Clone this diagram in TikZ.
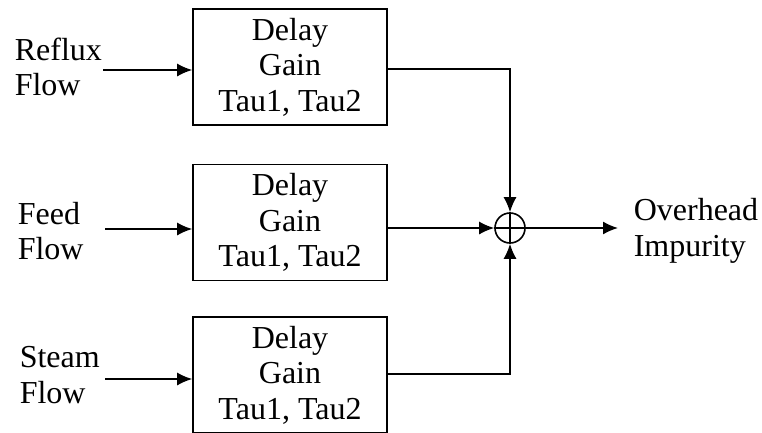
\documentclass[tikz,border=0pt]{standalone}
\usepackage{fontspec}
\setmainfont{Liberation Serif}
\usetikzlibrary{arrows.meta}
\begin{document}
\begin{tikzpicture}[x=1pt,y=-1pt,
  line width=1.6pt,
  txt/.style={font=\fontsize{32}{35.5}\selectfont},
  blockbox/.style={draw, txt, align=center, minimum width=194pt, minimum height=116pt, inner sep=0pt},
  lbl/.style={txt, align=left, anchor=west, inner sep=0pt},
  sumnode/.style={draw, circle, minimum size=30pt, inner sep=0pt},
  arr/.style={-{Latex[length=15pt,width=13pt]}}]
\useasboundingbox (0,0) rectangle (762,432);
% blocks
\node[blockbox] (b1) at (290,67) {Delay\\Gain\\Tau1, Tau2};
\node[blockbox] (b2) at (290,222.5) {Delay\\Gain\\Tau1, Tau2};
\node[blockbox] (b3) at (290,375) {Delay\\Gain\\Tau1, Tau2};
% input labels
\node[lbl] (l1) at (14,67) {Reflux\\Flow};
\node[lbl] (l2) at (17,231) {Feed\\Flow};
\node[lbl] (l3) at (19,375) {Steam\\Flow};
% summing junction
\node[sumnode] (sum) at (510,228) {};
\draw[line width=1.4pt] (sum.north) -- (sum.south) (sum.west) -- (sum.east);
% output
\coordinate (out) at (618,228);
\node[lbl] (lo) at (633,231) {Overhead\\Impurity};
% input arrows
\coordinate (i1) at (103,70);
\coordinate (i2) at (105,229);
\coordinate (i3) at (105,379);
\draw[arr] (i1) -- (i1 -| b1.west);
\draw[arr] (i2) -- (i2 -| b2.west);
\draw[arr] (i3) -- (i3 -| b3.west);
% block outputs to sum
\draw[arr] ([yshift=-2pt]b1.east) -| (sum.north);
\draw[arr] (sum.west -| b2.east) -- (sum.west);
\draw[arr] ([yshift=1pt]b3.east) -| (sum.south);
% output arrow
\draw[arr] (sum.east) -- (out);
\end{tikzpicture}
\end{document}
